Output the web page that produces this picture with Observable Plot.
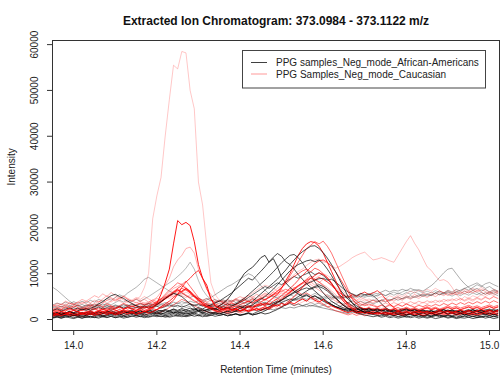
<!DOCTYPE html>
<html>
<head>
<meta charset="utf-8">
<script src="https://cdn.jsdelivr.net/npm/d3@7"></script>
<script src="https://cdn.jsdelivr.net/npm/@observablehq/plot@0.6"></script>
<style>
  body { margin: 0; background: #fff; }
  #chart svg { display: block; }
</style>
</head>
<body>
<div id="chart"></div>
<script>
// Retention times (minutes) shared by every extracted ion trace
const times = [
  13.95,13.96,13.97,13.98,13.99,14.00,14.01,14.02,14.03,14.04,
  14.05,14.06,14.07,14.08,14.09,14.10,14.11,14.12,14.13,14.14,
  14.15,14.16,14.17,14.18,14.19,14.20,14.21,14.22,14.23,14.24,
  14.25,14.26,14.27,14.28,14.29,14.30,14.31,14.32,14.33,14.34,
  14.35,14.36,14.37,14.38,14.39,14.40,14.41,14.42,14.43,14.44,
  14.45,14.46,14.47,14.48,14.49,14.50,14.51,14.52,14.53,14.54,
  14.55,14.56,14.57,14.58,14.59,14.60,14.61,14.62,14.63,14.64,
  14.65,14.66,14.67,14.68,14.69,14.70,14.71,14.72,14.73,14.74,
  14.75,14.76,14.77,14.78,14.79,14.80,14.81,14.82,14.83,14.84,
  14.85,14.86,14.87,14.88,14.89,14.90,14.91,14.92,14.93,14.94,
  14.95,14.96,14.97,14.98,14.99,15.00,15.01,15.02
];

// Intensities in thousands of counts, African-American samples
const aa01 = [
  0.8,1,0.7,0.9,1.1,0.8,1,0.7,0.9,1.2,
  0.9,1.1,0.8,1,1.3,1,1.2,0.9,1.1,1.4,
  1.1,1.3,1,1.2,1.5,1.2,1.4,1.1,1.3,1.6,
  1.3,1.5,1.2,1.4,1.7,2,1.8,2.1,2.4,2.2,
  3,3.6,4.4,5.6,7,8.6,10,10.8,11.4,12.4,
  13.5,14,12.5,13.3,11.5,9.2,8,7,6.2,5.6,
  5,5.4,4.8,5.2,4.6,4,3.6,3.2,2.8,2.5,
  2.2,1.9,2.1,1.8,1.6,1.8,1.5,1.3,1.5,1.2,
  1,1.2,0.9,1.1,0.8,1,1.2,0.9,1.1,0.8,
  1,0.8,1.1,0.9,0.7,1,0.8,1.1,0.9,1.2,
  0.9,1.1,0.8,1,1.2,0.9,1.1,0.8
];
const aa02 = [
  1.5,1.2,1.6,1.3,1.7,1.4,1.1,1.5,1.2,1.6,
  1.3,1.7,1.4,1.8,1.5,1.2,1.6,1.9,1.5,1.8,
  1.5,1.9,1.6,2,1.7,2.1,1.8,2.2,1.9,2.3,
  2,2.4,2.1,2.5,2.2,2.6,2.3,2.8,3.2,3.6,
  4,4.6,5.2,5.8,6.6,7.4,8.2,9,8.6,9.6,
  10.5,11.5,12.6,13.6,14.4,13.8,12.6,12,11,9.8,
  8.8,7.8,7,6.2,5.4,4.6,3.9,3.3,2.8,2.4,
  2.1,2.4,2,2.3,1.9,2.2,1.8,2.1,1.7,2,
  1.6,1.9,1.5,1.8,1.4,1.7,2,1.6,1.9,1.5,
  1.8,1.4,1.7,2,1.6,1.9,1.5,1.8,1.4,1.7,
  2,1.6,1.9,1.5,1.8,2.1,1.7,2
];
const aa03 = [
  1,1.3,1,1.4,1.1,0.9,1.2,1.5,1.1,1.4,
  1.1,1.4,1.7,1.3,1.6,1.2,1.5,1.8,1.4,1.7,
  1.3,1.6,1.9,1.5,1.8,1.4,1.7,2,1.6,1.9,
  1.5,1.8,2.1,1.7,2,2.3,1.9,2.2,2.5,2.1,
  2.4,2.8,2.4,2.9,3.4,4,4.6,5.4,6.2,7,
  7.8,8.6,9.5,10.4,11.4,12.4,13.2,14,14.2,13.5,
  12.4,11,9.6,8.2,7,5.8,4.8,4,3.4,2.9,
  2.5,2.2,2.5,2.1,2.4,2,2.3,1.9,2.2,1.8,
  2.1,1.7,2,1.6,1.9,2.2,1.8,2.1,1.7,2,
  1.6,1.9,1.5,1.8,2.1,1.7,2,1.6,1.9,1.5,
  1.8,2.1,1.7,2,1.6,1.9,2.2,1.8
];
const aa04 = [
  0.5,0.7,0.5,0.8,0.6,0.9,0.6,0.8,0.5,0.7,
  0.6,0.9,0.6,0.8,1,0.7,0.9,0.6,0.8,1.1,
  0.8,1,0.7,0.9,1.2,0.9,1.1,0.8,1,1.3,
  1,1.2,0.9,1.1,1.4,1.1,1.3,1,1.2,1.5,
  1.2,1.5,1.8,1.5,1.9,2.4,2.9,3.4,4,4.8,
  5.6,6.4,7.2,8,8.8,9.8,10.8,12,13,14,
  14.8,15.4,16,16.1,15.5,14.6,13.4,12,10.4,8.6,
  6.8,5,3.6,2.6,2,1.6,1.3,1.1,0.9,0.8,
  1,0.7,0.9,0.6,0.8,0.5,0.7,0.9,0.6,0.8,
  0.5,0.7,0.9,0.6,0.8,0.5,0.7,0.4,0.6,0.8,
  0.5,0.7,0.4,0.6,0.8,0.5,0.7,0.5
];
const aa05 = [
  1.2,1.5,1.1,1.4,1.7,1.3,1.6,1.2,1.5,1.8,
  1.4,1.7,1.3,1.6,1.9,1.5,1.8,1.4,1.7,2,
  1.6,1.9,1.5,1.8,2.1,1.7,2,1.6,1.9,2.2,
  1.8,2.1,1.7,2,2.3,1.9,2.2,1.8,2.1,2.4,
  2,2.3,2.6,2.2,2.5,2.9,2.5,2.8,3.2,3.8,
  4.4,5,5.8,6.6,7.6,8.6,9.6,10.6,11.4,12,
  12.4,12.8,13,12.6,13,12.2,11,9.6,8,6.6,
  5.4,4.4,3.6,3,2.5,2.1,2.4,2,2.3,1.9,
  2.2,1.8,2.1,1.7,2,2.3,1.9,2.2,1.8,2.1,
  1.7,2,1.6,1.9,2.2,1.8,2.1,1.7,2,1.6,
  1.9,2.2,1.8,2.1,1.7,2,1.6,1.9
];
const aa06 = [
  2,2.3,1.9,2.2,2.6,2.2,2.5,2.1,2.4,2,
  2.3,2.7,2.3,2.6,2.2,2.5,2.9,2.5,2.8,2.4,
  2.7,2.3,2.6,3,2.6,2.9,2.5,2.8,3.2,2.8,
  3.1,2.7,3,3.4,3,3.3,2.9,3.2,2.8,3.1,
  2.7,3,3.4,3,3.3,3.7,4.2,4.8,5.4,6,
  6.6,7.2,6.8,7.4,8,7.6,8.2,8.8,9.4,9,
  9.6,10,10.4,9.8,10.2,9.6,8.8,7.8,6.6,5.4,
  4.4,3.6,3,2.5,2.1,2.4,2,2.3,1.9,2.2,
  1.8,2.1,1.7,2,2.3,1.9,2.2,1.8,2.1,1.7,
  2,1.6,1.9,2.2,1.8,2.1,1.7,2,1.6,1.9,
  2.2,1.8,2.1,1.7,2,2.3,1.9,2.2
];
const aa07 = [
  0.3,0.5,0.3,0.6,0.4,0.2,0.5,0.3,0.6,0.4,
  0.5,0.3,0.6,0.4,0.7,0.4,0.6,0.3,0.5,0.8,
  0.5,0.7,0.4,0.6,0.9,0.6,0.8,0.5,0.7,1,
  0.7,0.9,0.6,0.8,1.1,0.8,1,0.7,0.9,1.2,
  0.9,1.1,0.8,1,1.3,1,1.2,1.5,1.2,1.6,
  2,2.4,2.8,3.3,3.8,4.3,4.8,5.3,5.8,6.2,
  6.6,6.9,6.6,7,7.2,6.8,6.2,5.4,4.6,3.8,
  3,2.4,1.9,1.5,1.2,1,0.8,0.6,0.8,0.5,
  0.7,0.4,0.6,0.3,0.5,0.7,0.4,0.6,0.3,0.5,
  0.3,0.5,0.2,0.4,0.6,0.3,0.5,0.2,0.4,0.3,
  0.5,0.2,0.4,0.6,0.3,0.5,0.2,0.4
];
const aa08 = [
  0.9,1.2,0.8,1.1,0.9,1.3,1,1.2,0.8,1.1,
  1.3,1,1.2,1.5,1.1,1.4,1,1.3,1.6,1.2,
  1.5,1.1,1.4,1.7,1.3,1.6,1.2,1.5,1.8,1.4,
  1.7,1.3,1.6,1.2,1.5,1.8,1.4,1.7,1.3,1.6,
  1.9,1.5,1.8,2.1,1.7,2,2.3,2.7,3,2.7,
  3.1,3.5,3.2,3.6,4,3.7,4.1,4.5,4.2,4.6,
  4.9,5.2,4.8,5.1,4.7,4.3,3.8,3.3,2.8,2.4,
  2,1.7,1.9,1.5,1.8,1.4,1.7,1.3,1.6,1.2,
  1.5,1.1,1.4,1.7,1.3,1.6,1.2,1.5,1.1,1.4,
  1.7,1.3,1.6,1.2,1.5,1.8,1.4,1.7,1.3,1.6,
  1.2,1.5,1.8,1.4,1.7,1.3,1.6,1.9
];
const aa09 = [
  1.2,1.5,1.1,1.4,1.8,1.5,1.9,2.3,2,2.4,
  2.8,3.4,3.9,4.6,5.2,5.5,5,4.6,4,3.5,
  3,2.6,2.9,2.5,2.8,3.3,3.9,4.6,5.2,5.7,
  5.4,5,4.2,3.4,2.6,1.8,1.5,1.3,1.6,1.2,
  1.4,1.1,1.3,1,1.2,0.9,1.1,1.4,1,1.2,
  1.5,1.2,1.4,1.8,2.2,2.7,3.2,3.8,4.4,5,
  5.6,6.2,6.8,7.2,7.6,7.2,6.6,5.8,4.8,3.8,
  3,2.4,2,1.6,1.9,1.5,1.8,1.4,1.7,1.3,
  1.6,1.2,1.5,1.1,1.4,1,1.3,1.6,1.2,1.5,
  1.1,1.4,1,1.3,1.6,1.2,1.5,1.1,1.4,1,
  1.3,1.6,1.2,1.5,1.1,1.4,1,1.3
];
const aa10 = [
  3.2,3.6,3.3,3.8,3.4,3.9,3.5,4,3.6,4.2,
  3.8,4.4,4,4.6,4.2,4.8,5.4,5,5.8,6.4,
  7,7.8,8.8,9.2,8.6,8,7.4,6.8,6.2,5.8,
  5.4,5.8,5.2,4.8,5.2,4.6,4.2,4.6,4,4.4,
  3.9,4.3,3.8,4.2,3.7,4.1,3.6,4,3.5,3.9,
  3.4,3.8,3.3,3.7,3.2,3.6,3.1,3.5,3,3.4,
  3,3.3,2.9,3.2,2.8,3.1,2.7,3,2.6,2.9,
  3.2,2.8,3.1,3.5,3.1,3.4,3.8,3.4,3.8,4.2,
  3.8,4.2,4.6,4.2,4.6,5,4.6,5,5.4,5,
  5.5,5.2,5.8,6.2,5.8,6.4,6,6.6,6.2,6.8,
  6.4,7,7.6,7.2,7.8,8.1,7.6,7.2
];
const aa11 = [
  2.6,3,2.7,3.2,2.8,3.3,2.9,2.6,3,3.4,
  3,3.5,3.1,3.6,3.2,3.7,4.2,3.8,4.3,3.9,
  4.4,4,4.5,5,5.6,6.2,6.8,7.4,8,8.6,
  9.4,10.2,11.2,12.5,11,8.5,6.5,5.2,4.4,3.8,
  4.2,3.8,4.3,3.9,4.4,4,4.5,4.1,4.6,4.2,
  4.7,4.3,4.8,5.2,4.8,5.3,4.9,5.4,5,5.5,
  5.1,5.6,5.2,5.7,5.3,4.9,5.4,5,4.6,5.1,
  4.7,5.2,4.8,5.3,4.9,5.4,5,5.5,5.1,5.6,
  5.2,5.7,5.3,5.8,5.4,5.9,5.5,6,5.6,5.2,
  5.7,5.3,5.8,5.4,5.9,5.5,5.1,5.6,5.2,5.7,
  5.3,5.8,5.4,5.9,5.5,6,5.6,5.2
];
const aa12 = [
  2,2.4,2.1,2.5,2.2,2.6,2.3,2.7,2.4,2.8,
  2.5,2.9,2.6,3,2.7,3.1,2.8,3.2,2.9,3.3,
  3,3.4,3.1,3.5,3.2,3.6,3.3,3.7,3.4,3.8,
  3.5,3.9,3.6,4,3.7,4.1,3.8,4.3,4.8,5.4,
  6,6.6,7.2,7.6,8.2,8.8,9.4,10,9.6,8.6,
  7.4,6.4,5.6,5,4.6,4.2,4.6,4.2,4.6,4.3,
  4.7,4.4,4.8,4.5,4.9,4.6,5,4.7,5.1,4.8,
  5.2,4.9,5.3,5,5.4,5.1,5.5,5.9,5.6,6,
  6.4,6,6.4,6.2,6.6,6.3,6.8,6.4,6.5,6.2,
  6.8,7.4,8.2,9.2,10.2,11,11.2,10,8.8,7.8,
  7,6.4,6.8,6.2,6.6,6,6.4,6
];
const aa13 = [
  7,6.4,5.6,4.8,4,3.4,3,3.3,2.9,3.2,
  2.8,3.1,2.7,3,2.6,2.9,2.5,2.8,3.2,2.8,
  3.1,2.7,3,3.4,3,3.3,2.9,3.2,2.8,3.1,
  2.7,3,2.6,2.9,3.3,2.9,3.2,2.8,3.1,2.7,
  3,3.4,3,3.3,2.9,3.2,2.8,3.1,2.7,3,
  3.4,3,3.3,2.9,3.2,3.6,3.2,3.5,3.1,3.4,
  3,3.3,3.7,3.3,3.6,3.2,3.5,3.9,3.5,3.8,
  3.4,3.7,4.1,3.7,4,3.6,3.9,4.3,3.9,4.2,
  4.6,4.2,4.5,4.9,4.5,4.8,5.2,4.8,5.1,5.5,
  5.1,5.4,5.8,5.4,5.7,6.1,5.7,6,6.4,6.8,
  7.2,7.6,8,7.4,6.8,7.2,6.6,6.2
];
const aa14 = [
  1.2,1,1.3,1.1,1.4,1.2,1,1.3,1.1,1.4,
  1.2,1.5,1.3,1.1,1.4,1.2,1.5,1.3,1.6,1.4,
  1.2,1.5,1.3,1.6,1.4,1.2,1.5,1.3,1.6,1.4,
  1.7,1.5,1.3,1.6,1.4,1.7,1.5,1.8,1.6,1.4,
  1.7,1.5,1.8,1.6,1.9,1.7,2,1.8,2.1,1.9,
  2.2,2,2.3,2.1,2.4,2.6,2.4,2.7,2.5,2.8,
  3,2.8,3.1,2.9,2.7,2.5,2.3,2.1,1.9,1.7,
  1.5,1.3,1.6,1.4,1.2,1.5,1.3,1.1,1.4,1.2,
  1.5,1.3,1.6,1.4,1.7,1.5,1.3,1.6,1.4,1.7,
  1.5,1.8,1.6,1.9,1.7,2,1.8,1.6,1.9,1.7,
  2,1.8,2.1,1.9,2.2,2,1.8,2.1
];
const aa15 = [
  2.8,2.5,2.9,2.6,3,2.7,3.1,2.8,3.2,2.9,
  3.3,3,3.4,3.1,2.8,3.2,2.9,3.3,3,3.4,
  3.1,3.5,3.2,3.6,3.3,3,3.4,3.1,3.5,3.2,
  3.6,3.3,3.7,3.4,3.1,3.5,3.2,3.6,3.3,3.7,
  3.4,3.8,3.5,3.2,3.6,3.3,3.7,3.4,3.8,3.5,
  3.9,3.6,4,3.7,4.1,3.8,4.2,3.9,4.3,4,
  4.4,4.1,4.5,4.2,4.6,4.3,4.7,4.4,4.8,4.5,
  4.9,4.6,5,4.7,5.1,4.8,5.2,4.9,5.3,5.6,
  5.2,5.6,6,5.6,6,6.4,6.1,6.5,6.2,5.8,
  6.2,5.8,6.3,5.9,5.5,6,5.6,6.1,5.7,6.2,
  5.8,6.3,5.9,5.4,5.9,5.5,6,5.6
];
const aa16 = [
  0.4,0.6,0.3,0.5,0.7,0.4,0.6,0.3,0.5,0.7,
  0.4,0.6,0.8,0.5,0.7,0.4,0.6,0.8,0.5,0.7,
  0.9,0.6,0.8,0.5,0.7,0.9,0.6,0.8,0.5,0.7,
  0.9,0.6,0.8,1,0.7,0.9,0.6,0.8,1,0.7,
  0.9,1.1,0.8,1,1.2,0.9,1.1,1.3,1,1.2,
  1.5,1.9,2.4,3,3.6,4.2,4.8,5.4,6,6.6,
  7.2,7.8,8.2,8.6,8.9,9,8.6,8.8,8.2,7.4,
  6.6,6,5.6,5.2,5.7,5.4,5.6,5.2,4.4,3.4,
  2.6,2,1.6,1.3,1.1,0.9,1.1,0.8,1,0.7,
  0.9,0.6,0.8,1,0.7,0.9,0.6,0.8,0.5,0.7,
  0.9,0.6,0.8,0.5,0.7,0.9,0.6,0.8
];

// Intensities in thousands of counts, Caucasian samples
const cau01 = [
  2.5,2,2.5,3,2.2,2.8,3.2,2.6,3,3.5,
  3,3.8,4.2,3.5,4,4.8,4.2,5,4.4,3.8,
  4.5,5,7,10,22,27,31,40,48,55.5,
  54.7,58.5,58.2,50,46,30,25,16,8,5.5,
  4.2,3.8,3.5,3,3.4,2.8,3,2.5,2.8,2.2,
  2.6,2.2,2.5,3,2.4,2.8,3.2,3.6,3,3.4,
  3.8,4.2,3.6,4,3.5,3.2,2.8,3,2.5,2.7,
  2.4,2.8,2.2,2.5,2,2.3,2.6,2.2,2.8,2.4,
  2.7,3,2.6,3.2,2.8,3.4,3,3.6,3.2,3.8,
  3.4,4,3.6,4.2,3.8,4.4,4,4.6,4.2,5,
  4.6,5.2,4.8,5.4,5,5.6,5.2,5.8
];
const cau02 = [
  1.5,1.2,1.8,1.4,1.6,2,1.7,1.3,1.6,1.9,
  1.5,1.8,2.2,1.9,2.4,2,1.7,2.2,2.6,2.3,
  2,2.4,2.8,2.5,2.7,3.5,5.5,8,11,16.5,
  21.6,20.7,21.2,20.5,17,12,9,7.5,4.5,3,
  2.5,2.2,2.6,2,2.4,1.8,2.2,1.9,2.3,2,
  2.4,2.8,2.5,3.2,2.9,3.5,3.2,3.8,3.4,4,
  4.5,4,4.8,4.2,3.8,4.4,3.6,3,2.6,2.2,
  1.8,1.5,1.9,1.4,1.7,1.3,1.6,1.2,1.5,1.3,
  1.6,1.2,1.5,1.8,1.4,1.7,1.3,1.6,1.9,1.5,
  1.8,1.4,1.7,2,1.6,1.9,1.5,1.8,2.1,1.7,
  2,1.6,1.9,2.2,1.8,2.1,1.7,2
];
const cau03 = [
  3,3.5,3.2,4,3.6,3.3,3.8,4.4,4,3.6,
  4.2,3.8,4.5,5.2,4.6,4,4.8,4.3,3.8,4.2,
  3.6,4,3.5,3.8,4.2,4.8,6,7.5,9,11.5,
  13,14,15.5,15.8,14.5,11,9,6.5,5.5,4.2,
  3.8,4.2,3.6,4,4.5,5,4.6,5.2,4.8,5.5,
  5,5.6,5.2,6,5.5,6.2,5.8,6.5,7,6.4,
  7,7.6,8.2,7.5,8,8.8,8.2,7.6,7,6.2,
  5.5,5,4.6,4.2,4.8,4.4,4,3.6,4.2,3.8,
  4.4,4,4.6,5,4.5,5.2,4.8,5.5,5,5.8,
  5.4,6,5.5,6.2,5.8,5.2,5.8,5.4,6,5.6,
  6.2,5.8,6.4,6,5.5,6,5.6,6.2
];
const cau04 = [
  1,1.3,0.9,1.2,1.5,1.1,1.4,1,1.3,1.6,
  1.2,1.5,1.8,1.4,1.7,1.3,1.6,2,1.7,1.4,
  1.8,2.1,1.7,2,2.4,2.1,2.6,3,3.5,4.2,
  5.5,7,8.2,9,10,10.7,9,6.8,4.5,3,
  2.4,2,2.4,2,2.3,1.9,2.2,1.8,2.1,2.4,
  2,2.5,2.2,2.8,3.2,2.8,3.5,4.2,5,6,
  7,8.2,9,9.6,10.2,9.8,9.2,8,6.5,5,
  3.8,3,2.4,2,1.6,1.9,1.5,1.8,1.4,1.7,
  1.3,1.6,1.2,1.5,1.1,1.4,1.7,1.3,1.6,1.2,
  1.5,1.1,1.4,1.8,1.4,1.7,1.3,1.6,1.2,1.5,
  1.8,1.4,1.7,1.3,1.6,1.9,1.5,1.8
];
const cau05 = [
  2,1.6,2.2,1.8,2.4,2,1.7,2.1,2.5,2.1,
  2.4,2,2.6,2.2,1.9,2.3,2.7,2.3,2.6,2.2,
  2.5,2.9,2.4,2.8,3.2,3.8,4.5,5.5,6.4,7.2,
  8,7.6,8.4,7.2,6,4.8,3.8,3.2,2.7,2.4,
  2.8,2.4,2.9,2.5,3,2.6,3.1,2.7,3.3,2.9,
  3.4,3,3.6,3.2,3.8,4.2,5,5.8,6.5,7.4,
  8,8.8,9.5,8.8,8.2,7.4,6.5,5.5,4.5,3.6,
  3,2.6,2.2,2.5,2.1,2.4,2,2.3,1.9,2.2,
  2.5,2.1,2.4,2,2.3,2.7,2.3,2.6,2.2,2.5,
  2.8,2.4,2.7,2.3,2.6,3,2.6,2.9,2.5,2.8,
  3.1,2.7,3,2.6,2.9,3.2,2.8,3.1
];
const cau06 = [
  0.8,1.1,0.9,1.2,1,0.8,1.1,1.4,1,1.2,
  0.9,1.2,1.5,1.1,1.4,1,1.3,1.6,1.2,1.5,
  1.1,1.4,1.8,1.4,1.7,2.2,2.8,3.4,4,4.8,
  5.5,6.2,6.8,6,5.2,4.4,3.5,2.8,2.4,2,
  1.8,2.2,1.9,2.3,2,2.5,2.2,2.8,2.4,3,
  3.5,3.2,4,4.8,5.5,6.8,8.5,10,12,14,
  15.5,16.5,17,16.8,16,14.5,12.5,10.5,8.5,6.5,
  4.5,3.2,2.4,1.8,1.4,1.7,1.3,1.5,1.2,1.4,
  1.1,1.3,1,1.2,0.9,1.1,1.3,1,1.2,0.9,
  1.1,1.4,1,1.2,1.5,1.1,1.3,1,1.2,1.4,
  1.1,1.3,1,1.2,1.4,1.1,1.3,1
];
const cau07 = [
  2.2,2.6,2.2,2.8,2.4,3,2.6,2.3,2.7,3.1,
  2.7,3.2,2.8,3.4,3,2.6,3,3.5,3.1,2.8,
  3.2,3.6,3.2,3.5,3.9,3.5,4,4.5,5,5.6,
  6.2,6.8,6.4,5.8,5,4.4,3.8,3.4,3,3.4,
  3,3.5,3.1,3.6,3.2,3.8,4.2,3.8,4.4,4,
  4.6,5.2,4.8,5.4,6.2,7,8,9.5,11,12.5,
  14,15.5,16.2,17,16.5,17.1,16,14.5,12.5,10.5,
  8.5,6.5,5,4,3.4,3,3.4,3,2.7,3.1,
  2.8,3.2,2.8,3.3,2.9,3.4,3,2.7,3.1,2.8,
  3.2,2.9,3.3,3,3.5,3.1,3.6,3.2,3.7,3.3,
  3.8,3.4,3.9,3.5,4,3.6,4.1,3.7
];
const cau08 = [
  1.4,1.7,1.3,1.6,1.2,1.5,1.8,1.4,1.7,1.3,
  1.6,2,1.6,1.9,1.5,1.8,2.2,1.8,2.1,1.7,
  2,2.4,2,2.3,2.7,3.2,3.8,4.5,5.2,5.8,
  6.5,6,6.6,5.8,5,4.2,3.5,3,2.6,2.3,
  2.1,2.5,2.2,2.6,2.3,2.8,2.5,3,2.7,3.3,
  3,3.6,3.3,4,4.5,5.2,6,6.8,7.6,8.6,
  9.6,10.5,11.4,12.2,12.8,13,12.5,11.6,10.4,9,
  7.5,6,4.5,3.4,2.6,2.2,2.5,2.1,2.4,2,
  2.3,1.9,2.2,1.8,2.1,2.4,2,2.3,1.9,2.2,
  2.5,2.1,2.4,2,2.3,2.6,2.2,2.5,2.1,2.4,
  2.7,2.3,2.6,2.2,2.5,2.8,2.4,2.7
];
const cau09 = [
  2.8,3.2,2.8,3.4,3,3.6,3.2,3.8,3.4,3,
  3.5,4,3.6,4.2,4.8,4.2,4.6,5.2,4.6,4.2,
  4.8,4.4,5,4.5,4,4.6,4.2,4.8,5.4,5,
  5.6,5.2,4.8,5.4,5,4.6,4.2,4.6,4.2,3.8,
  4.2,3.8,4.4,4,4.6,4.2,4.8,4.4,5,4.6,
  5.2,5.8,5.4,6,6.8,7.4,8.2,9,9.8,10.5,
  11,11.8,12.5,13,13.2,12.6,12.4,11.8,11.2,11.6,
  12.2,12.8,13.5,14,14.4,14.7,13.8,13,13.2,13.5,
  13.2,12.8,12.5,14,15.5,17,18.3,16.6,15.2,13.3,
  11.5,10.7,9.5,8.5,8.7,8.2,7,5.5,4.5,4,
  4.4,4,4.6,4.2,4.8,4.4,5,4.6
];
const cau10 = [
  1.2,0.9,1.3,1,1.4,1.1,0.8,1.2,1.5,1.1,
  1.4,1,1.3,1.7,1.3,1.6,1.2,1.5,1.9,1.5,
  1.8,1.4,1.7,2.1,2.6,3.2,3.8,4.5,5.2,6,
  6.8,7.4,6.8,6.2,5,4,3.2,2.6,2.2,1.9,
  1.6,1.9,1.5,1.8,2.2,1.8,2.1,1.7,2,2.4,
  2,2.3,2.7,3.2,3.8,4.5,5.2,6,6.8,7.4,
  8,8.6,9,8.6,9.2,8.8,8.2,7.4,6.5,5.8,
  5.2,4.8,5.5,5,5.6,6,5.4,5.8,6.3,5.6,
  4.5,3.4,2.6,2,1.6,1.9,1.5,1.8,1.4,1.7,
  1.3,1.6,1.2,1.5,1.1,1.4,1.7,1.3,1.6,1.2,
  1.5,1.1,1.4,1.7,1.3,1.6,1.2,1.5
];
const cau11 = [
  3.2,2.8,3.4,3,3.6,3.2,3.8,3.4,4,4.6,
  5.2,4.8,5.6,5,5.9,5.2,4.6,5,4.4,4,
  4.5,4,4.4,3.8,4.3,3.9,4.5,5.2,6,6.8,
  7.2,7.8,7,6.2,5.4,4.8,4.2,3.8,4.2,3.7,
  4,3.6,4.1,3.7,4.2,3.8,4.4,4,4.6,4.2,
  4.8,4.4,5,5.6,5.2,5.8,5.4,6,6.6,7.2,
  7.8,8.4,8,8.6,8.2,7.6,7,6.2,5.4,4.6,
  4,3.6,4,3.5,3.9,3.4,3.8,4.2,3.8,4.3,
  3.9,4.4,4,4.6,4.2,4.8,4.4,5,4.6,5.2,
  4.8,5.4,5,5.6,5.2,5.8,5.4,6,5.5,6.2,
  5.8,6.4,6,6.6,6.1,5.6,6.2,5.8
];
const cau12 = [
  2,2.4,2.8,2.4,3,2.6,3.2,2.8,2.4,2.9,
  3.4,3,3.6,4.2,3.8,4.4,4,3.5,3.9,3.4,
  3.8,3.3,3.7,3.2,3.6,4,4.5,5,4.6,5.2,
  5.8,5.4,6,5.5,5,4.6,4.2,3.8,3.4,3.8,
  3.4,3.8,3.4,3.9,4.4,4,4.6,5.2,5.8,6.4,
  7,7.5,7.2,6.8,6.2,6.6,6,5.6,6,6.5,
  7.2,7.8,8.5,9,9.5,10,9.6,9,8,7,
  6,5.2,4.6,4,4.4,4,4.5,4.1,4.6,5,
  4.6,5.2,4.8,5.4,5,5.6,6.2,5.8,6.4,6,
  6.6,6.2,6.8,6.3,5.8,6.3,5.9,6.5,6,6.6,
  6.2,6.8,6.4,7,6.5,6,6.6,6.2
];
const cau13 = [
  0.6,0.9,0.7,1,0.8,1.1,0.8,0.6,0.9,1.2,
  0.9,1.2,0.8,1.1,1.4,1,1.3,0.9,1.2,1.5,
  1.1,1.4,1,1.3,1.7,1.3,1.6,2.1,2.6,3.2,
  3.8,4.4,4,3.5,3,2.5,2,1.7,1.4,1.7,
  1.3,1.6,1.2,1.5,1.8,1.4,1.7,2.1,2.6,3.2,
  3.8,4.4,4.9,5.4,5.8,6.2,6.6,6.2,6.6,6,
  5.4,5.8,5.2,4.6,4,3.4,2.8,2.3,1.9,1.6,
  1.3,1,1.3,0.9,1.2,0.8,1.1,1.4,1,1.3,
  0.9,1.2,0.8,1.1,1.4,1,1.3,0.9,1.2,0.8,
  1.1,1.4,1,1.3,0.9,1.2,1.5,1.1,1.4,1,
  1.3,0.9,1.2,1.5,1.1,1.4,1,1.3
];
const cau14 = [
  1.6,2,1.7,2.2,1.8,2.3,2,2.5,2.1,1.8,
  2.2,1.9,2.4,2,2.6,2.2,2.8,2.4,3,2.6,
  3.2,2.8,3.3,2.9,3.4,3.9,4.5,5,5.6,6.2,
  6.6,6,5.4,4.8,4.2,3.6,3.1,3.5,3,3.4,
  3,3.5,3.1,3.6,3.2,3.8,3.4,3.9,3.5,4.2,
  3.8,4.4,4,4.6,4.2,4.8,5.4,6,6.6,7.2,
  7.8,8.2,7.6,7,6.4,5.8,5.2,4.6,4,3.6,
  3.2,3.6,3.1,3.5,3,3.4,2.9,3.3,2.8,3.2,
  3.6,3.2,3.7,3.3,3.8,3.4,3.9,3.5,4,3.6,
  4.1,3.7,4.2,3.8,4.4,4,4.5,4.1,4.6,4.2,
  4.7,4.3,4.8,4.4,4.9,4.5,5,4.6
];
const cau15 = [
  1.8,2.1,1.7,2,2.4,2,2.3,1.9,2.2,2.6,
  2.2,2.5,2.1,2.4,2.8,2.4,2.7,2.3,2.6,3,
  2.6,2.9,2.5,2.8,3.2,3.6,4.2,4.8,5.4,6,
  6.4,5.8,5.2,4.6,4,3.5,3.1,2.8,2.5,2.8,
  2.5,2.9,2.6,3,2.7,3.2,3.6,4,3.7,4.2,
  4.6,4.2,4.8,5.5,6.2,7,7.8,8.6,9.4,10,
  10.6,11,10.4,11.2,10.8,10,9,7.8,6.5,5.2,
  4.2,3.4,2.8,2.4,2.7,2.3,2.6,2.2,2.5,2.1,
  2.4,2,2.3,2.6,2.2,2.5,2.1,2.4,2,2.3,
  2.6,2.2,2.5,2.1,2.4,2.7,2.3,2.6,2.2,2.5,
  2.8,2.4,2.7,2.3,2.6,2.9,2.5,2.8
];

const aaSeries  = [aa01,aa02,aa03,aa04,aa05,aa06,aa07,aa08,aa09,aa10,aa11,aa12,aa13,aa14,aa15,aa16];
const cauSeries = [cau01,cau02,cau03,cau04,cau05,cau06,cau07,cau08,cau09,cau10,cau11,cau12,cau13,cau14,cau15];

// Per-sample line transparency
const aaAlpha  = [0.75,0.7,0.65,0.7,0.7,0.6,0.65,0.55,0.7,0.3,0.28,0.32,0.3,0.38,0.25,0.62];
const cauAlpha = [0.22,0.9,0.3,0.75,0.55,0.85,0.55,0.7,0.25,0.7,0.3,0.22,0.5,0.3,0.6];

// Order in which the traces are overplotted (group, index)
const drawOrder = [
  ["aa",9],["aa",10],["aa",11],["aa",12],["aa",13],["aa",14],
  ["cau",0],["cau",2],["cau",8],["cau",10],["cau",11],["cau",13],
  ["cau",12],["aa",7],["cau",4],["aa",5],["cau",6],["aa",2],["cau",14],
  ["aa",1],["cau",9],["aa",15],["cau",7],["aa",4],["cau",3],["aa",0],
  ["cau",5],["aa",3],["aa",6],["aa",8],["cau",1]
];

const xTicks = [14.0,14.2,14.4,14.6,14.8,15.0];
const yTicks = [0,10000,20000,30000,40000,50000,60000];
const titleText = "Extracted Ion Chromatogram: 373.0984 - 373.1122 m/z";
const xLabel = "Retention Time (minutes)";
const yLabel = "Intensity";
const legendLabels = ["PPG samples_Neg_mode_African-Americans", "PPG Samples_Neg_mode_Caucasian"];
const legendAlpha = [0.75, 0.4];
const legendColors = ["#000000", "#ff0000"];

const xDomain = [13.949, 15.024];
const yDomain = [-2400, 60900];

const rows = values => values.map((v, i) => ({t: times[i], v: v * 1000})).filter(d => d.t !== undefined);

const traceMarks = drawOrder.map(([g, i]) => {
  const isAA = g === "aa";
  const values = isAA ? aaSeries[i] : cauSeries[i];
  return Plot.line(rows(values), {
    x: "t", y: "v",
    stroke: isAA ? "#000000" : "#ff0000",
    strokeOpacity: isAA ? aaAlpha[i] : cauAlpha[i],
    strokeWidth: 1,
    clip: true
  });
});

const fontFamily = "'Liberation Sans', Arial, Helvetica, sans-serif";

const chart = Plot.plot({
  width: 502,
  height: 380,
  marginLeft: 52,
  marginRight: 3,
  marginTop: 40,
  marginBottom: 50,
  style: {fontFamily, fontSize: "10px", background: "#fff", color: "#222"},
  x: {domain: xDomain},
  y: {domain: yDomain},
  marks: [
    ...traceMarks,
    Plot.frame({stroke: "#333", strokeWidth: 1}),
    Plot.axisX({ticks: xTicks, tickSize: 5, tickPadding: 6, tickFormat: d3.format(".1f"), fontSize: 10, label: null, stroke: "#333"}),
    Plot.axisY({ticks: yTicks, tickSize: 5, tickFormat: () => "", label: null, stroke: "#333"}),
    Plot.text(yTicks, {x: () => xDomain[0], y: d => d, text: d => String(d), rotate: -90, dx: -17.5, fontSize: 10, fill: "#222"}),
    Plot.text([titleText], {frameAnchor: "top", dy: -24, text: d => d, fontWeight: "bold", fontSize: 12, fill: "#111"}),
    Plot.text([xLabel], {frameAnchor: "bottom", dy: 42, text: d => d, fontSize: 10, fill: "#222"}),
    Plot.text([yLabel], {frameAnchor: "left", dx: -40.5, rotate: -90, text: d => d, fontSize: 10, fill: "#222"})
  ]
});

// Legend box in the upper right of the panel
const svg = d3.select(chart);
const lg = svg.append("g")
  .attr("font-family", fontFamily)
  .attr("font-size", 10)
  .attr("text-anchor", "start");
lg.append("rect")
  .attr("x", 242.5).attr("y", 50.5).attr("width", 243).attr("height", 37.5)
  .attr("fill", "#fff").attr("stroke", "#444").attr("stroke-width", 1);
legendLabels.forEach((label, k) => {
  const y = 62.5 + k * 11.5;
  lg.append("line")
    .attr("x1", 251).attr("x2", 267).attr("y1", y).attr("y2", y)
    .attr("stroke", legendColors[k]).attr("stroke-opacity", legendAlpha[k]).attr("stroke-width", 1);
  lg.append("text")
    .attr("x", 276).attr("y", y).attr("dy", "0.35em")
    .attr("text-anchor", "start")
    .attr("fill", "#222").text(label);
});

document.getElementById("chart").appendChild(chart);
</script>
</body>
</html>
